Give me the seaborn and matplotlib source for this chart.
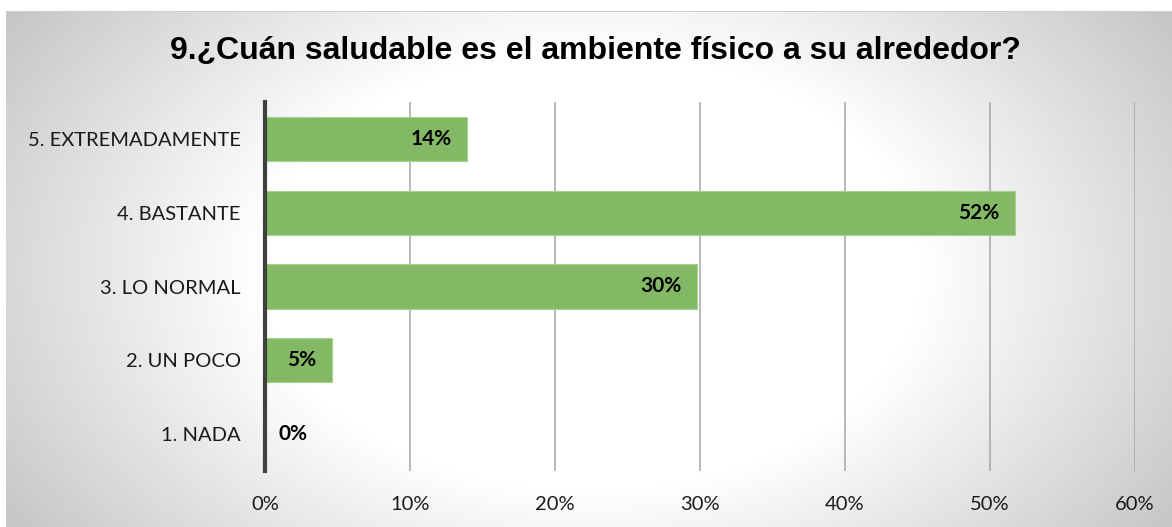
import numpy as np
import pandas as pd
import matplotlib
matplotlib.use("Agg")
import matplotlib.pyplot as plt
import seaborn as sns

title = "9.¿Cuán saludable es el ambiente físico a su alrededor?"
categories = ["5. EXTREMADAMENTE", "4. BASTANTE", "3. LO NORMAL", "2. UN POCO", "1. NADA"]
values = [13.9, 51.7, 29.8, 4.6, 0.0]
labels = ["14%", "52%", "30%", "5%", "0%"]
xticks = [0, 10, 20, 30, 40, 50, 60]
xticklabels = ["0%", "10%", "20%", "30%", "40%", "50%", "60%"]

df = pd.DataFrame({"cat": categories, "val": values})

sns.set_theme(style="white")
plt.rcParams["font.family"] = ["Lato", "DejaVu Sans"]

W, H = 1172, 527
fig = plt.figure(figsize=(W / 100, H / 100), dpi=100)

# background radial gradient
bg = fig.add_axes([0, 0, 1, 1], zorder=-10)
yy, xx = np.mgrid[0:H, 0:W]
cx, cy = 590, 270
r = np.sqrt(((xx - cx) / 600.0) ** 2 + ((yy - cy) / 400.0) ** 2)
g = 1.0 - 0.22 * np.clip((r - 0.55) / 0.6, 0, 1)
img = np.dstack([g, g, g])
img[:11, :, :] = 1.0
img[:, :6, :] = 1.0
img[11, 6:, :] = 0.8
bg.imshow(img, extent=[0, 1, 0, 1], aspect="auto", origin="upper")
bg.axis("off")

ax = fig.add_axes([265 / W, 1 - 471 / H, (1135 - 265) / W, (471 - 102) / H])
ax.patch.set_alpha(0)
sns.barplot(data=df, x="val", y="cat", order=categories, orient="h",
            color="#83b964", saturation=1, width=0.6,
            edgecolor="#a8d18d", linewidth=0.8, ax=ax, zorder=3)

ax.set_xlim(0, 60)
ax.set_ylim(4.5, -0.5)
ax.set_xticks(xticks)
ax.set_xticklabels(xticklabels, fontsize=14.5, color="#1a1a1a")
ax.tick_params(axis="y", labelsize=14.5, labelcolor="#1a1a1a", length=0, pad=17.5)
ax.tick_params(axis="x", length=0, pad=18)
ax.set_xlabel("")
ax.set_ylabel("")
for xv in xticks[1:]:
    ax.axvline(xv, color="#a6a6a6", lw=1.1, zorder=1)
for s in ["top", "right", "bottom"]:
    ax.spines[s].set_visible(False)
ax.spines["left"].set_color("#404040")
ax.spines["left"].set_linewidth(3)
ax.spines["left"].set_zorder(5)

for i, (v, lab) in enumerate(zip(values, labels)):
    if v > 0:
        ax.annotate(lab, (v, i), xytext=(-11, 0), textcoords="offset points",
                    ha="right", va="center", fontsize=15, fontweight="bold", color="black", zorder=6)
    else:
        ax.annotate(lab, (v, i), xytext=(10, 0), textcoords="offset points",
                    ha="left", va="center", fontsize=15, fontweight="bold", color="black", zorder=6)

fig.text(595 / W, 1 - 51 / H, title, ha="center", va="center", fontsize=23,
         fontweight="bold", family=["Liberation Sans", "DejaVu Sans"], color="black")

fig.savefig("out.png", dpi=100)
